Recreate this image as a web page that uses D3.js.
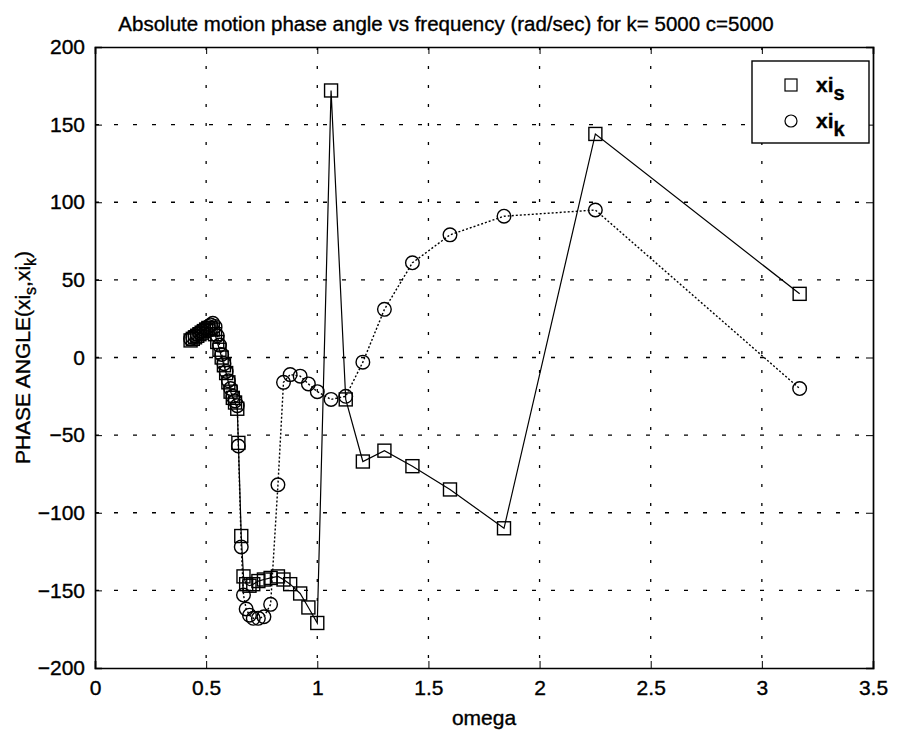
<!DOCTYPE html>
<html><head><meta charset="utf-8">
<script src="https://cdn.jsdelivr.net/npm/d3@7"></script>
<style>
body{margin:0;background:#fff;}
text{font-family:"Liberation Sans",Arial,Helvetica,sans-serif;fill:#000;stroke:#000;stroke-width:0.35px;}
</style></head>
<body><svg id="c" width="901" height="736"></svg>
<script>
const title = "Absolute motion phase angle vs frequency (rad/sec) for k= 5000 c=5000";
const xTicks = [0,0.5,1,1.5,2,2.5,3,3.5];
const yTicks = [-200,-150,-100,-50,0,50,100,150,200];
const omega = [0.430,0.440,0.450,0.460,0.470,0.480,0.490,0.500,0.510,0.520,0.530,0.540,0.550,0.560,0.570,0.580,0.590,0.600,0.610,0.620,0.630,0.640,0.645,0.658,0.668,0.680,0.695,0.712,0.735,0.760,0.790,0.823,0.848,0.878,0.923,0.960,1.000,1.062,1.128,1.205,1.302,1.428,1.597,1.840,2.251,3.170];
const xiS = [11,12,13,14,15,16,17,18,19,19,18,15,10,5,0,-5,-10,-16,-22,-26,-29,-33,-55,-115,-141,-146,-147,-146,-144,-143,-142,-141,-143,-146,-152,-161,-171,172,-27,-67,-60,-70,-85,-110,144,41];
const xiK = [12,13,14,15,16,17,18,19,20,21,22,20,14,8,2,-4,-9,-15,-20,-25,-28,-31,-57,-122,-153,-162,-166,-168,-168,-167,-159,-82,-16,-11,-12,-17,-22,-27,-25,-3,31,61,79,91,95,-20];

const svg = d3.select("#c");
const L=95, R=873, T=47, B=668;
const x = d3.scaleLinear().domain([0,3.5]).range([L,R]);
const y = d3.scaleLinear().domain([-200,200]).range([B,T]);

// grid
const g = svg.append("g");
g.selectAll(".vg").data(xTicks.slice(1,-1)).enter().append("line")
 .attr("x1",d=>x(d)).attr("x2",d=>x(d)).attr("y1",T).attr("y2",B)
 .attr("stroke","#000").attr("stroke-width",1.3).attr("stroke-dasharray","3,16");
g.selectAll(".hg").data(yTicks.slice(1,-1)).enter().append("line")
 .attr("y1",d=>y(d)).attr("y2",d=>y(d)).attr("x1",L).attr("x2",R)
 .attr("stroke","#000").attr("stroke-width",1.3).attr("stroke-dasharray","4,15");

// axes
const xa = svg.append("g").attr("transform",`translate(0,${B})`)
 .call(d3.axisBottom(x).tickValues(xTicks).tickSize(-7).tickPadding(12).tickFormat(d3.format("")));
const xt = svg.append("g").attr("transform",`translate(0,${T})`)
 .call(d3.axisTop(x).tickValues(xTicks).tickSize(-7).tickFormat(""));
const ya = svg.append("g").attr("transform",`translate(${L},0)`)
 .call(d3.axisLeft(y).tickValues(yTicks).tickSize(-7).tickPadding(10).tickFormat(d3.format("")));
const yr = svg.append("g").attr("transform",`translate(${R},0)`)
 .call(d3.axisRight(y).tickValues(yTicks).tickSize(-7).tickFormat(""));
[xa,xt,ya,yr].forEach(a=>{a.select(".domain").attr("stroke","#000").attr("stroke-width",1.7);
 a.selectAll(".tick line").attr("stroke","#000").attr("stroke-width",1);
 a.selectAll("text").style("font-size","21px").style("font-family","Liberation Sans, Arial, sans-serif").attr("fill","#000");});
xa.selectAll(".tick text").attr("dy","0.71em");

const ptsS = omega.map((o,i)=>[o,xiS[i]]);
const ptsK = omega.map((o,i)=>[o,xiK[i]]);
const line = d3.line().x(d=>x(d[0])).y(d=>y(d[1]));

svg.append("path").attr("d",line(ptsS)).attr("fill","none").attr("stroke","#000").attr("stroke-width",1.2);
svg.append("path").attr("d",line(ptsK)).attr("fill","none").attr("stroke","#000").attr("stroke-width",1.4).attr("stroke-dasharray","2,2");

const ms = 13;
svg.append("g").selectAll("rect").data(ptsS).enter().append("rect")
 .attr("x",d=>x(d[0])-ms/2).attr("y",d=>y(d[1])-ms/2).attr("width",ms).attr("height",ms)
 .attr("fill","none").attr("stroke","#000").attr("stroke-width",1.4);
svg.append("g").selectAll("circle").data(ptsK).enter().append("circle")
 .attr("cx",d=>x(d[0])).attr("cy",d=>y(d[1])).attr("r",6.8)
 .attr("fill","none").attr("stroke","#000").attr("stroke-width",1.4);

// title
svg.append("text").attr("x",446).attr("y",31).attr("text-anchor","middle")
 .style("font-size","20.5px").text(title);
// x label
svg.append("text").attr("x",(L+R)/2).attr("y",725).attr("text-anchor","middle")
 .style("font-size","21px").text("omega");
// y label
const yl = svg.append("text").attr("transform",`translate(30,${(T+B)/2}) rotate(-90)`)
 .attr("text-anchor","middle").style("font-size","21px");
yl.append("tspan").text("PHASE ANGLE(xi");
yl.append("tspan").attr("dy","6").style("font-size","16px").text("s");
yl.append("tspan").attr("dy","-6").text(",xi");
yl.append("tspan").attr("dy","6").style("font-size","16px").text("k");
yl.append("tspan").attr("dy","-6").text(")");

// legend
const lg = svg.append("g");
lg.append("rect").attr("x",752).attr("y",61).attr("width",R-752-4).attr("height",82)
 .attr("fill","#fff").attr("stroke","#000").attr("stroke-width",1.4);
lg.append("rect").attr("x",791-6).attr("y",85-6).attr("width",12).attr("height",12)
 .attr("fill","none").attr("stroke","#000").attr("stroke-width",1.2);
lg.append("circle").attr("cx",791).attr("cy",121).attr("r",6).attr("fill","none").attr("stroke","#000").attr("stroke-width",1.2);
const legItems = [["xi","s",92],["xi","k",128]];
legItems.forEach(([a,b,yy])=>{
 const t = lg.append("text").attr("x",816).attr("y",yy).style("font-size","21px").style("font-weight","bold");
 t.append("tspan").text(a);
 t.append("tspan").attr("dy","8").style("font-size","20px").text(b);
});
</script></body></html>
